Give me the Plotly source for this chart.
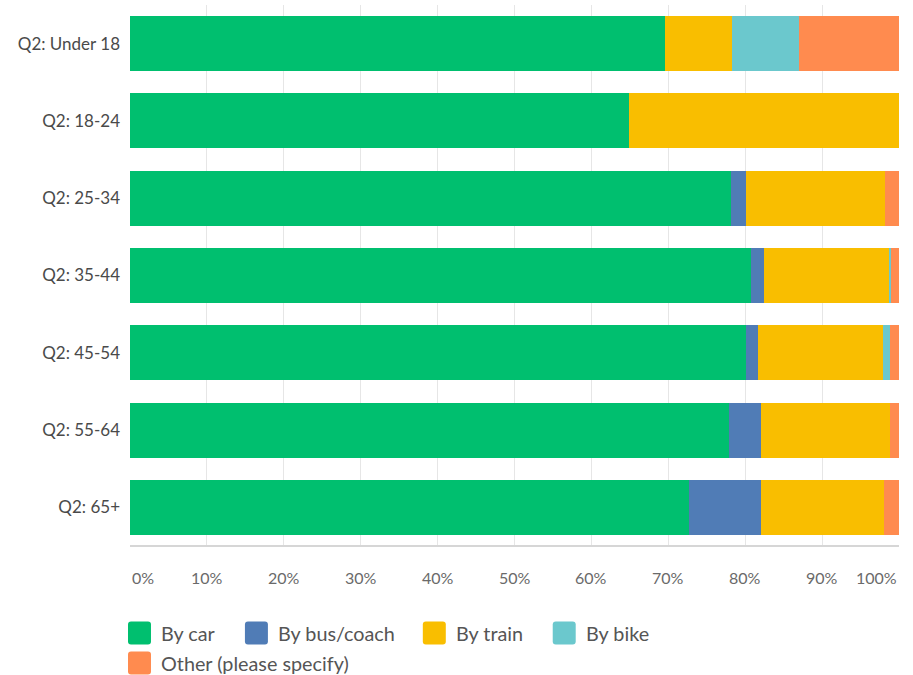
import plotly.graph_objects as go

# Survey results: travel mode share (%) by age group
categories = ["Q2: Under 18", "Q2: 18-24", "Q2: 25-34", "Q2: 35-44",
              "Q2: 45-54", "Q2: 55-64", "Q2: 65+"]
by_car = [69.6, 64.9, 78.1, 80.7, 80.1, 77.9, 72.7]
by_bus = [0.0, 0.0, 2.0, 1.8, 1.6, 4.2, 9.4]
by_train = [8.7, 35.1, 18.1, 16.3, 16.2, 16.7, 15.9]
by_bike = [8.7, 0.0, 0.0, 0.2, 0.9, 0.0, 0.0]
other = [13.0, 0.0, 1.8, 1.0, 1.2, 1.2, 2.0]

series_names = ["By car", "By bus/coach", "By train", "By bike", "Other (please specify)"]
series_values = [by_car, by_bus, by_train, by_bike, other]
colors = ["#00BF6F", "#507CB6", "#F9BE00", "#6BC8CD", "#FF8B4F"]

tick_values = [0, 10, 20, 30, 40, 50, 60, 70, 80, 90, 100]
tick_text = [f"{v}%" for v in tick_values]

W, H = 913, 675
ML, MR, MT, MB = 130, 13.5, 5, 129
PW, PH = W - ML - MR, H - MT - MB

FONT = "Lato, 'Open Sans', sans-serif"

fig = go.Figure()
for name, vals, col in zip(series_names, series_values, colors):
    fig.add_trace(go.Bar(
        y=categories, x=vals, name=name, orientation="h",
        marker=dict(color=col, line=dict(width=0)),
        showlegend=False,
    ))


def px_x(p):
    return (p - ML) / PW


def px_y(p):
    return (H - MB - p) / PH


shapes = []
annotations = []

# bottom edge of the plotting area
shapes.append(dict(type="line", xref="paper", yref="paper", x0=0, x1=1, y0=0, y1=0,
                   line=dict(color="#D6D6D6", width=2), layer="above"))

# x tick labels: first left-aligned, last right-aligned, the rest centred
for v, t in zip(tick_values, tick_text):
    anchor = "left" if v == tick_values[0] else ("right" if v == tick_values[-1] else "center")
    annotations.append(dict(x=v, y=0, xref="x", yref="paper", text=t, showarrow=False,
                            xanchor=anchor, yanchor="middle", yshift=-31,
                            font=dict(family=FONT, size=16, color="#6A6A6A")))

# legend built from rounded swatches and labels
legend_items = [
    (128, 633, 0), (245, 633, 1), (423, 633, 2), (553, 633, 3), (128, 663, 4),
]
sw = 23
r = 3
for lx, ly, i in legend_items:
    x0, x1 = lx, lx + sw
    y0, y1 = ly - sw / 2, ly + sw / 2
    # rounded rectangle path in paper coordinates
    pts = [
        ("M", x0 + r, y0), ("L", x1 - r, y0), ("Q", x1, y0, x1, y0 + r),
        ("L", x1, y1 - r), ("Q", x1, y1, x1 - r, y1), ("L", x0 + r, y1),
        ("Q", x0, y1, x0, y1 - r), ("L", x0, y0 + r), ("Q", x0, y0, x0 + r, y0),
    ]
    path = ""
    for seg in pts:
        cmd = seg[0]
        coords = seg[1:]
        parts = []
        for k in range(0, len(coords), 2):
            parts.append(f"{px_x(coords[k]):.5f},{px_y(coords[k + 1]):.5f}")
        path += cmd + " ".join(parts) + " "
    path += "Z"
    shapes.append(dict(type="path", xref="paper", yref="paper", path=path,
                       fillcolor=colors[i], line=dict(width=0)))
    annotations.append(dict(x=px_x(lx + sw + 8), y=px_y(ly), xref="paper", yref="paper",
                            text=series_names[i], showarrow=False, xanchor="left",
                            yanchor="middle",
                            font=dict(family=FONT, size=19.8, color="#555555")))

fig.update_layout(
    width=W, height=H,
    margin=dict(l=ML, r=MR, t=MT, b=MB),
    barmode="stack",
    bargap=0.29,
    paper_bgcolor="white",
    plot_bgcolor="white",
    font=dict(family=FONT),
    shapes=shapes,
    annotations=annotations,
    xaxis=dict(range=[0, 100], tickvals=tick_values, showticklabels=False,
               showgrid=True, gridcolor="#E6E6E6", gridwidth=1, zeroline=False,
               showline=False, fixedrange=True),
    yaxis=dict(categoryorder="array", categoryarray=categories, autorange="reversed",
               showgrid=False, zeroline=False, showline=False, ticks="",
               ticklabelstandoff=9,
               tickfont=dict(family=FONT, size=17, color="#4A4A4A")),
)

fig.write_html("out.html")
